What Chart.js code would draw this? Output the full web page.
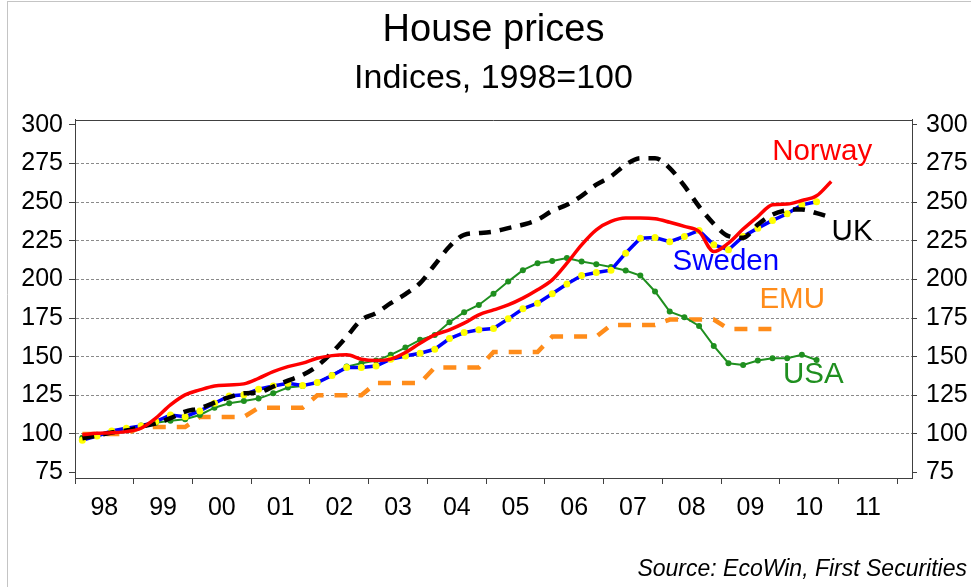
<!DOCTYPE html>
<html>
<head>
<meta charset="utf-8">
<script src="https://cdn.jsdelivr.net/npm/chart.js@4.4.1/dist/chart.umd.min.js"></script>
<style>
html,body{margin:0;padding:0;background:#fff;}
#wrap{position:relative;width:971px;height:587px;}
canvas{display:block;}
</style>
</head>
<body>
<div id="wrap"><canvas id="c" width="971" height="587"></canvas></div>
<script>
// ---------- data (quarterly, 1998 = 100) ----------
const quarters = [
 '1998Q1','1998Q2','1998Q3','1998Q4','1999Q1','1999Q2','1999Q3','1999Q4',
 '2000Q1','2000Q2','2000Q3','2000Q4','2001Q1','2001Q2','2001Q3','2001Q4',
 '2002Q1','2002Q2','2002Q3','2002Q4','2003Q1','2003Q2','2003Q3','2003Q4',
 '2004Q1','2004Q2','2004Q3','2004Q4','2005Q1','2005Q2','2005Q3','2005Q4',
 '2006Q1','2006Q2','2006Q3','2006Q4','2007Q1','2007Q2','2007Q3','2007Q4',
 '2008Q1','2008Q2','2008Q3','2008Q4','2009Q1','2009Q2','2009Q3','2009Q4',
 '2010Q1','2010Q2','2010Q3','2010Q4'
];
const norway = [99.5,100.4,100.8,101.5,103.7,110.2,118.8,125.3,128.5,131.1,131.7,132.4,136.0,140.3,143.6,145.8,
 149.0,150.7,151.2,148.4,147.5,148.4,152.7,158.7,164.1,167.4,171.7,177.1,180.3,183.5,187.9,193.3,
 199.7,210.5,222.4,232.1,237.5,239.7,239.7,239.3,237.0,234.3,231.0,218.0,223.5,232.6,240.7,248.3,
 248.8,251.1,254.1,263.4];
const uk = [97.2,99.0,101.0,102.2,104.8,106.9,110.2,114.5,116.6,120.3,123.8,126.3,126.8,130.7,134.5,138.2,
 144.0,152.7,163.0,173.8,178.2,184.6,190.5,197.6,209.5,221.3,228.9,230.0,231.0,233.2,235.4,238.6,
 244.4,248.3,254.1,261.3,266.7,274.2,278.5,278.5,272.1,260.5,247.2,236.0,228.0,227.0,235.5,242.0,
 244.8,245.3,242.9,240.0];
const sweden = [96.0,98.7,101.9,103.7,105.2,108.0,112.3,111.2,114.9,119.9,124.6,125.3,128.9,131.1,132.8,131.3,
 133.3,137.8,143.0,143.0,144.0,148.4,150.5,152.2,154.8,161.7,165.6,167.4,168.2,174.5,181.0,184.6,
 190.7,197.0,202.5,204.5,206.0,217.0,226.7,227.1,224.4,227.8,231.7,222.4,219.2,227.8,233.2,238.2,
 242.5,248.3,250.3];
const usa = [97.5,99.5,101.5,103.5,105.5,107.3,108.5,109.5,112.3,117.0,119.9,121.4,122.9,126.3,130.0,131.1,
 133.3,138.2,143.6,145.8,147.5,151.2,155.9,160.9,164.1,172.3,178.8,183.5,190.7,198.6,206.0,210.5,
 212.0,213.8,211.6,209.9,208.0,205.8,202.5,192.2,179.2,175.6,169.9,157.0,145.8,144.7,147.5,149.0,
 149.0,151.2,147.9];
const emu = [100,100,100,100,104.5,104.5,104.5,104.5,111,111,111,111,117,117,117,117,
 125,125,125,125,133,133,133,133,143,143,143,143,153,153,153,153,
 163,163,163,163,170.5,170.5,170.5,170.5,174,174,174,174,168,168,168,168];

const years = [1998,1999,2000,2001,2002,2003,2004,2005,2006,2007,2008,2009,2010,2011];
const yearLabels = ['98','99','00','01','02','03','04','05','06','07','08','09','10','11'];
const yTickValues = [75,100,125,150,175,200,225,250,275,300];

const seriesNames = ['Norway','UK','Sweden','EMU','USA'];
const seriesColors = ['#FF0000','#000000','#0000FF','#FF8C1A','#1F8F1F'];
// label anchor positions in data coordinates (year, index value)
const labelAnchors = [[2010.72,282.5],[2011.23,230.5],[2009.08,211.5],[2010.21,186.5],[2010.57,138.5]];

// ---------- helpers ----------
const FONT = "'Liberation Sans', Arial, sans-serif";
function qx(q){ return parseInt(q.slice(0,4),10) + (parseInt(q.slice(5),10) - 0.5) / 4; }
function pts(arr){ return arr.map((v,i)=>({x: qx(quarters[i]), y: v})); }

const decor = {
  id: 'decor',
  beforeDraw(chart){
    const ctx = chart.ctx;
    ctx.save();
    ctx.fillStyle = '#fff';
    ctx.fillRect(0,0,chart.width,chart.height);
    ctx.strokeStyle = '#c4c4c4';
    ctx.lineWidth = 1;
    ctx.beginPath();
    ctx.moveTo(7.5, 2); ctx.lineTo(7.5, chart.height);
    ctx.moveTo(7, 1.5); ctx.lineTo(chart.width, 1.5);
    ctx.stroke();
    ctx.restore();
  },
  afterDatasetsDraw(chart){
    const ctx = chart.ctx, a = chart.chartArea;
    const xs = chart.scales.x, ys = chart.scales.y;
    ctx.save();
    ctx.strokeStyle = '#404040';
    ctx.lineWidth = 1;
    ctx.beginPath();
    ctx.moveTo(a.left, Math.round(a.top)+0.5);
    ctx.lineTo(a.right, Math.round(a.top)+0.5);
    ctx.stroke();
    ctx.font = '29.5px ' + FONT;
    ctx.textAlign = 'center';
    ctx.textBaseline = 'middle';
    seriesNames.forEach((n,i)=>{
      ctx.fillStyle = seriesColors[i];
      ctx.fillText(n, xs.getPixelForValue(labelAnchors[i][0]), ys.getPixelForValue(labelAnchors[i][1]));
    });
    ctx.restore();
  },
  afterDraw(chart){
    const ctx = chart.ctx;
    ctx.save();
    ctx.font = 'italic 23px ' + FONT;
    ctx.fillStyle = '#000';
    ctx.textAlign = 'right';
    ctx.textBaseline = 'middle';
    ctx.fillText('Source: EcoWin, First Securities', 967, 570);
    ctx.restore();
  }
};

const tickFont = {family: FONT, size: 25};

new Chart(document.getElementById('c'), {
  type: 'line',
  data: {
    datasets: [
      {label:'Norway', data: pts(norway), borderColor:'#FF0000', borderWidth:3.5, pointRadius:0, cubicInterpolationMode:'monotone', fill:false},
      {label:'UK', data: pts(uk), borderColor:'#000000', borderWidth:4.5, borderDash:[12,9], pointRadius:0, cubicInterpolationMode:'monotone', fill:false},
      {label:'Sweden', data: pts(sweden), borderColor:'#0000FF', borderWidth:3.5, pointRadius:3.5, pointBackgroundColor:'#FFFF00', pointBorderWidth:0, pointBorderColor:'#FFFF00', fill:false},
      {label:'USA', data: pts(usa), borderColor:'#1F8F1F', borderWidth:2, pointRadius:3, pointBackgroundColor:'#1F8F1F', pointBorderWidth:0, fill:false},
      {label:'EMU', data: pts(emu), borderColor:'#FF8C1A', borderWidth:4.5, borderDash:[13,11], pointRadius:0, fill:false}
    ]
  },
  options: {
    responsive: false,
    animation: false,
    devicePixelRatio: 1,
    layout: {padding: {top: 0, left: 0, right: 0, bottom: 0}},
    plugins: {
      legend: {display:false},
      tooltip: {enabled:false},
      title: {display:true, text:'House prices', color:'#000', fullSize:false,
              font:{family:FONT, size:38, weight:'normal', lineHeight:1.2}, padding:{top:8, bottom:4}},
      subtitle: {display:true, text:'Indices, 1998=100', color:'#000', fullSize:false,
              font:{family:FONT, size:34, weight:'normal', lineHeight:1.2}, padding:{top:1, bottom:20.1}}
    },
    scales: {
      x: {
        type:'linear', min:1998, max:2012.25,
        afterBuildTicks: s => {
          const t = [];
          years.forEach(y => { t.push({value:y}); t.push({value:y+0.5}); });
          t.push({value: years[years.length-1] + 1});
          s.ticks = t;
        },
        ticks: {autoSkip:false, maxRotation:0, minRotation:0, padding:9, color:'#000', font:tickFont,
          callback: v => { const i = years.indexOf(v - 0.5); return i >= 0 ? yearLabels[i] : ''; }},
        grid: {drawOnChartArea:false, drawTicks:true, tickLength:6, tickWidth:1,
          tickColor: c => (c.tick && Number.isInteger(c.tick.value)) ? '#404040' : 'rgba(0,0,0,0)'},
        border: {display:true, color:'#404040', width:1},
        afterFit: s => { s.height = 109; }
      },
      y: {
        position:'left', min:71.5, max:303.5,
        afterBuildTicks: s => { s.ticks = yTickValues.map(v=>({value:v})); },
        ticks: {padding:6, color:'#000', font:tickFont},
        grid: {drawOnChartArea:true, tickLength:6, tickWidth:1, tickColor:'#404040', lineWidth:1,
          color: c => (c.tick && (c.tick.value === 75 || c.tick.value === 300)) ? 'rgba(0,0,0,0)' : '#8a8a8a'},
        border: {display:true, color:'#404040', width:1, dash:[3,2]},
        afterFit: s => { s.width = 75; }
      },
      y2: {
        position:'right', min:71.5, max:303.5,
        afterBuildTicks: s => { s.ticks = yTickValues.map(v=>({value:v})); },
        ticks: {padding:9, color:'#000', font:tickFont},
        grid: {drawOnChartArea:false, tickLength:5, tickWidth:1, tickColor:'#404040'},
        border: {display:true, color:'#404040', width:1},
        afterFit: s => { s.width = 59; }
      }
    }
  },
  plugins: [decor]
});
</script>
</body>
</html>
